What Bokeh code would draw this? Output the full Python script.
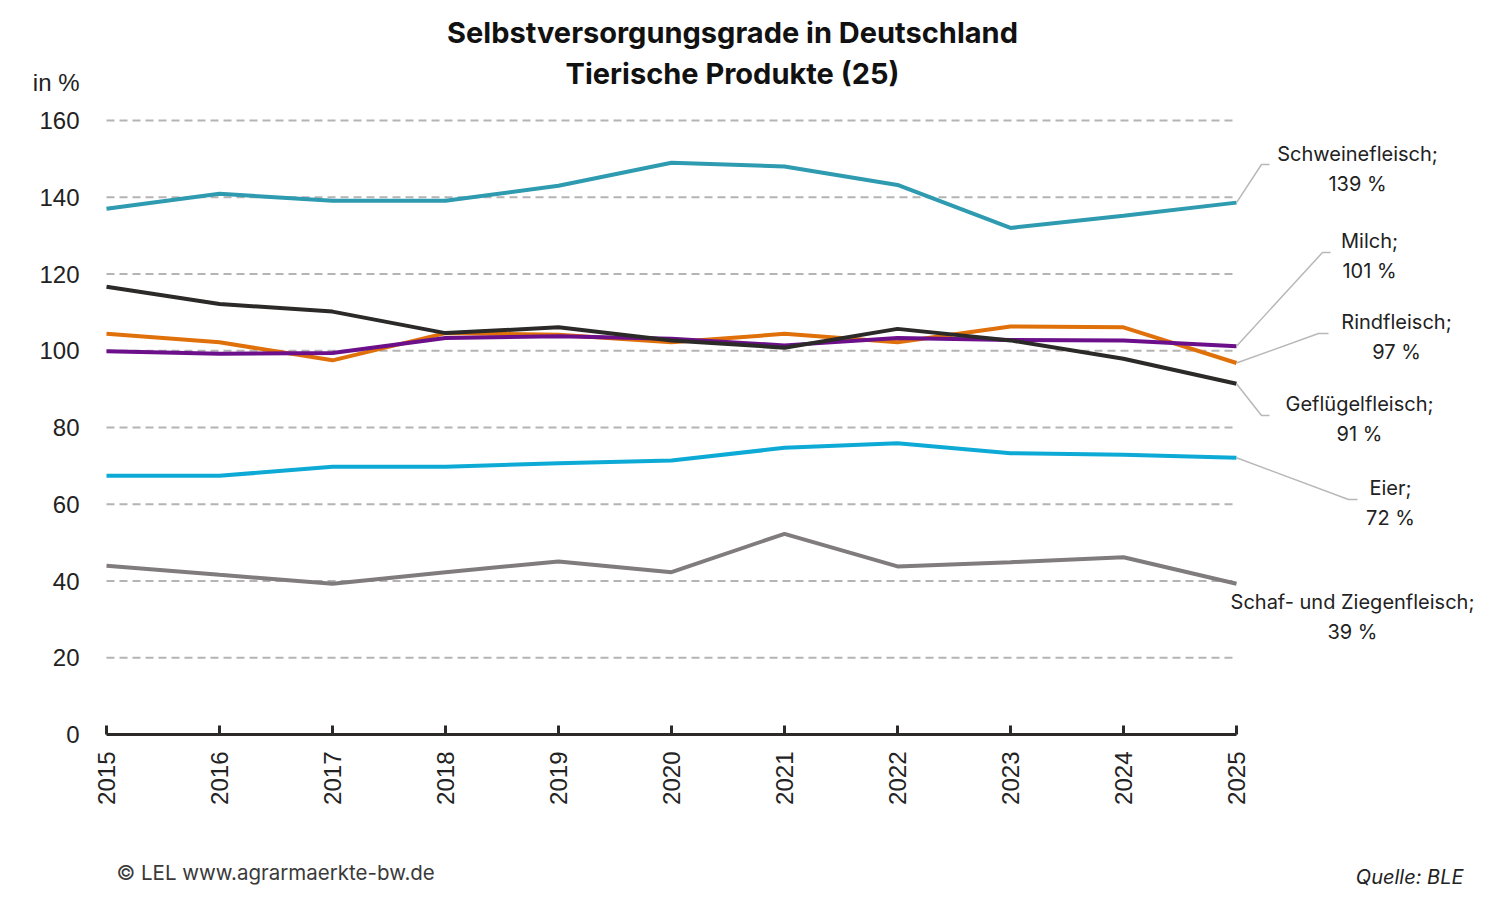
from bokeh.plotting import figure
from bokeh.models import Range1d, FixedTicker, Label
from bokeh.layouts import column
from bokeh.core.properties import value
from bokeh.embed import file_html
from bokeh.resources import INLINE
import math

# Selbstversorgungsgrade in %
years = [2015, 2016, 2017, 2018, 2019, 2020, 2021, 2022, 2023, 2024, 2025]
schweinefleisch = [137.0, 140.9, 139.1, 139.1, 143.0, 149.0, 148.0, 143.2, 132.0, 135.2, 138.6]
milch = [99.9, 99.2, 99.4, 103.3, 103.8, 103.1, 101.4, 103.3, 102.8, 102.7, 101.2]
rindfleisch = [104.4, 102.2, 97.5, 104.6, 104.2, 102.2, 104.4, 102.2, 106.3, 106.1, 96.8]
gefluegelfleisch = [116.7, 112.2, 110.2, 104.6, 106.1, 102.7, 100.8, 105.7, 102.7, 97.9, 91.4]
eier = [67.4, 67.4, 69.8, 69.8, 70.7, 71.4, 74.7, 75.9, 73.3, 72.9, 72.1]
schaf_ziege = [44.0, 41.6, 39.3, 42.3, 45.1, 42.3, 52.3, 43.8, 44.9, 46.2, 39.3]
y_ticks = [0, 20, 40, 60, 80, 100, 120, 140, 160]
unit_label = "in %"

W = 1490
H_MAIN, H_FOOT = 840, 58
LEFT = 98          # frame left edge
AXIS_Y = 734       # pixel row of the x axis

# page pixel -> data helpers (2015 at x=106, 113 px per year; 0 at y=734, 3.8375 px per %)
def xd(px):
    return 2015 + (px - 106) / 113.0

def yd(py):
    return (AXIS_Y - py) / 3.8375

p = figure(
    width=W, height=H_MAIN,
    x_range=Range1d(xd(LEFT), xd(W)),
    y_range=Range1d(0, yd(0)),
    title=None,
    toolbar_location=None,
    output_backend="svg",
    min_border_left=LEFT, min_border_right=0,
    min_border_top=0, min_border_bottom=H_MAIN - AXIS_Y,
)
p.outline_line_color = None
p.xgrid.visible = False
p.ygrid.visible = False

# dashed horizontal grid lines between 2015 and 2025
grid_y = [t for t in y_ticks if t > 0]
p.segment(x0=[years[0]] * len(grid_y), x1=[years[-1]] * len(grid_y),
          y0=grid_y, y1=grid_y, line_color="#b5b3b4", line_width=2,
          line_dash="8 5")

# y axis: labels only, the unit sits as an extra label above 160
unit_y = 170
p.yaxis.ticker = FixedTicker(ticks=y_ticks + [unit_y])
p.yaxis.major_label_overrides = {unit_y: unit_label}
p.yaxis.axis_line_color = None
p.yaxis.major_tick_line_color = None
p.yaxis.minor_tick_line_color = None
p.yaxis.major_label_standoff = 13
p.yaxis.major_label_text_font = "Liberation Sans"
p.yaxis.major_label_text_font_size = "24px"
p.yaxis.major_label_text_color = "#222222"

# x axis
p.xaxis.ticker = FixedTicker(ticks=years)
p.xaxis.bounds = (years[0], years[-1])
p.xaxis.axis_line_color = "#2b2a29"
p.xaxis.axis_line_width = 3
p.xaxis.major_tick_line_color = "#2b2a29"
p.xaxis.major_tick_line_width = 3
p.xaxis.major_tick_in = 9
p.xaxis.major_tick_out = 0
p.xaxis.minor_tick_line_color = None
p.xaxis.major_label_orientation = math.pi / 2
p.xaxis.major_label_standoff = 17
p.xaxis.major_label_text_font = "Liberation Sans"
p.xaxis.major_label_text_font_size = "24px"
p.xaxis.major_label_text_color = "#222222"

series = [
    ("Schweinefleisch", schweinefleisch, "#2e9bb0"),
    ("Eier", eier, "#0daad6"),
    ("Schaf- und Ziegenfleisch", schaf_ziege, "#807b7c"),
    ("Rindfleisch", rindfleisch, "#e0700a"),
    ("Milch", milch, "#6b0f8a"),
    ("Geflügelfleisch", gefluegelfleisch, "#2b2a28"),
]
for name, vals, color in series:
    p.line(years, vals, line_color=color, line_width=4)

# end labels: text centre (px) and leader knee/end (px)
label_pos = {
    "Schweinefleisch": (1357, 153, (1261, 1269, 164)),
    "Milch": (1369, 240, (1322, 1330, 252)),
    "Rindfleisch": (1396, 321, (1318, 1328, 333)),
    "Geflügelfleisch": (1359, 403, (1261, 1269, 415)),
    "Eier": (1390, 487, (1348, 1357, 499)),
    "Schaf- und Ziegenfleisch": (1352, 601, None),
}
for name, vals, color in series:
    cx, cy, leader = label_pos[name]
    if leader is not None:
        kx, ex, ky = leader
        p.line([years[-1], xd(kx), xd(ex)], [vals[-1], yd(ky), yd(ky)],
               line_color="#b8b8b8", line_width=1.5)
    for i, txt in enumerate([name + ";", "%d %%" % round(vals[-1])]):
        p.add_layout(Label(x=xd(cx), y=yd(cy + i * 30), text=txt,
                           text_align="center", text_baseline="middle",
                           text_font="Inter", text_font_size="20px",
                           text_color="#222222"))

# two-line title
for txt, py in [("Selbstversorgungsgrade in Deutschland", 32),
                ("Tierische Produkte (25)", 73)]:
    p.add_layout(Label(x=xd(732), y=yd(py), text=txt, text_align="center",
                       text_baseline="middle", text_font="Inter",
                       text_font_style="bold", text_font_size="29px",
                       text_color="#111111"))

# footer strip (column aligns its frame with the main frame, so it starts at LEFT)
f = figure(
    width=W, height=H_FOOT,
    x_range=Range1d(LEFT, W), y_range=Range1d(H_FOOT, 0),
    title=None, toolbar_location=None, output_backend="svg",
    min_border_left=LEFT, min_border_right=0,
    min_border_top=0, min_border_bottom=0,
)
f.outline_line_color = None
f.axis.visible = False
f.grid.visible = False
f.text(x=[116], y=[32], text=["© LEL www.agrarmaerkte-bw.de"],
       text_align="left", text_baseline="middle", text_font=value("Inter"),
       text_font_size="20.5px", text_color="#3a3a3a")
f.text(x=[1463], y=[36], text=["Quelle: BLE"],
       text_align="right", text_baseline="middle", text_font=value("Inter"),
       text_font_style="italic", text_font_size="20px", text_color="#222222")

open("out.html", "w").write(file_html(column(p, f), INLINE))
